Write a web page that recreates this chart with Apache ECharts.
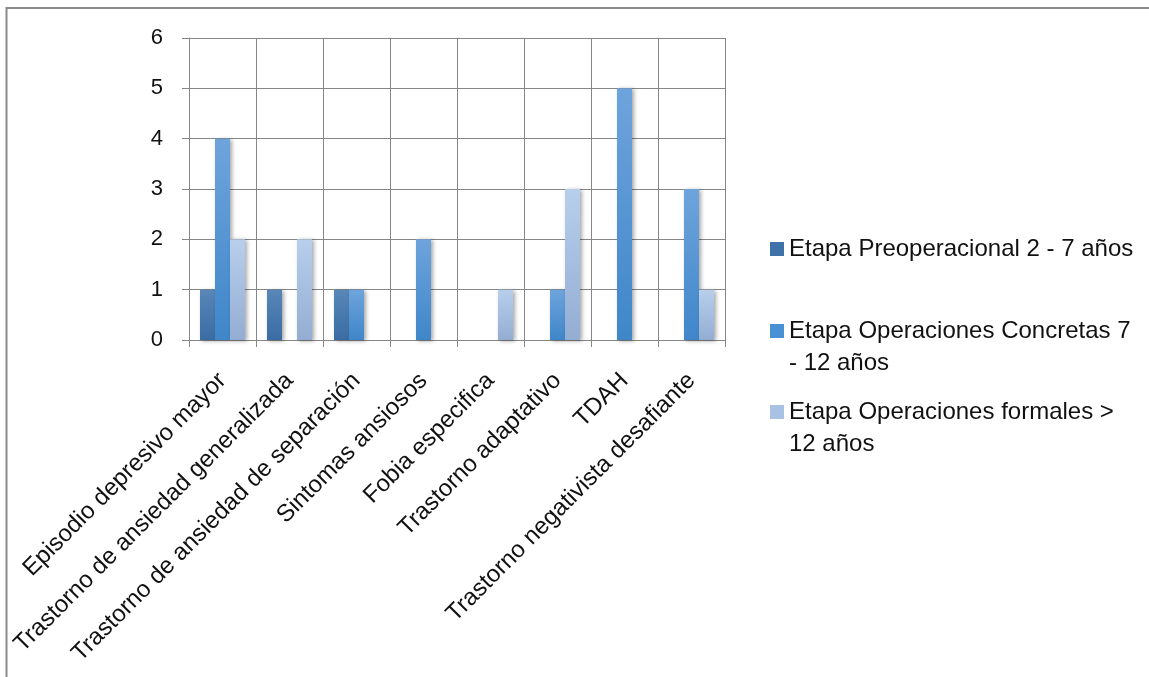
<!DOCTYPE html>
<html>
<head>
<meta charset="utf-8">
<script src="https://cdn.jsdelivr.net/npm/echarts@6/dist/echarts.min.js"></script>
<style>
  html, body { margin: 0; padding: 0; background: #fff; }
  #chart { width: 1149px; height: 677px; }
</style>
</head>
<body>
<div id="chart"></div>
<script>
var categories = [
  'Episodio depresivo mayor',
  'Trastorno de ansiedad generalizada',
  'Trastorno de ansiedad de separación',
  'Sintomas ansiosos',
  'Fobia especifica',
  'Trastorno adaptativo',
  'TDAH',
  'Trastorno negativista desafiante'
];
var seriesNames = [
  'Etapa Preoperacional 2 - 7 años',
  'Etapa Operaciones Concretas 7 - 12 años',
  'Etapa Operaciones formales > 12 años'
];
var preoperacional = [1, 1, 1, 0, 0, 0, 0, 0];
var concretas = [4, 0, 1, 2, 0, 1, 5, 3];
var formales = [2, 2, 0, 0, 1, 3, 0, 1];
var yTicks = [0, 1, 2, 3, 4, 5, 6];

var font = 'Liberation Sans';
var lineH = 32;
var gradient = function(top, bottom) {
  return new echarts.graphic.LinearGradient(0, 0, 0, 1, [
    {offset: 0, color: top},
    {offset: 1, color: bottom}
  ]);
};
var colors = [
  gradient('#5887b8', '#3a6ca3'),
  gradient('#6ea4dc', '#3f86c9'),
  gradient('#b8cfec', '#93add3')
];
var legendColors = ['#3f72a8', '#4a90d4', '#a9c1e3'];

var makeSeries = function(i, data) {
  return {
    name: seriesNames[i],
    type: 'bar',
    data: data,
    barWidth: 15,
    barGap: '0%',
    itemStyle: {
      color: colors[i],
      shadowColor: 'rgba(0,0,0,0.35)',
      shadowBlur: 4,
      shadowOffsetX: 2,
      shadowOffsetY: 1
    }
  };
};

// two-line legend entries: icon path padded down so the square sits on the first line
var legendItem = function(i, top, wrapped) {
  var twoLines = wrapped.indexOf('\n') >= 0;
  var h = twoLines ? 14 + lineH : 14;
  return {
    left: 770,
    top: top,
    padding: 0,
    orient: 'vertical',
    icon: twoLines ? 'path://M0,0h14v14h-14z M0,' + h + 'L0,' + h : 'rect',
    itemWidth: 14,
    itemHeight: h,
    data: [{name: seriesNames[i], itemStyle: {color: legendColors[i]}}],
    formatter: function() { return wrapped; },
    selectedMode: false,
    textStyle: {
      fontFamily: font,
      fontSize: 24,
      color: '#111',
      lineHeight: lineH
    }
  };
};

var chart = echarts.init(document.getElementById('chart'));
chart.setOption({
  animation: false,
  backgroundColor: '#fff',
  textStyle: {fontFamily: font},
  grid: {left: 189, right: 424, top: 38, bottom: 337, containLabel: false},
  legend: [
    legendItem(0, 233, 'Etapa Preoperacional 2 - 7 años'),
    legendItem(1, 315, 'Etapa Operaciones Concretas 7\n- 12 años'),
    legendItem(2, 396, 'Etapa Operaciones formales >\n12 años')
  ],
  xAxis: {
    type: 'category',
    data: categories,
    axisLine: {lineStyle: {color: '#868686', width: 1}},
    axisTick: {show: true, length: 7, lineStyle: {color: '#868686'}},
    splitLine: {show: true, lineStyle: {color: '#868686', width: 1}},
    axisLabel: {
      rotate: 45,
      interval: 0,
      margin: 37,
      fontFamily: font,
      fontSize: 24,
      color: '#111'
    }
  },
  yAxis: {
    type: 'value',
    min: yTicks[0],
    max: yTicks[yTicks.length - 1],
    interval: 1,
    axisLine: {show: true, lineStyle: {color: '#868686', width: 1}},
    axisTick: {show: true, length: 7, lineStyle: {color: '#868686'}},
    splitLine: {show: true, lineStyle: {color: '#868686', width: 1}},
    axisLabel: {
      margin: 26,
      fontFamily: font,
      fontSize: 22,
      color: '#111'
    }
  },
  graphic: [{
    type: 'polyline',
    shape: {points: [[6.5, 690], [6.5, 8], [1160, 8]]},
    style: {stroke: '#8a8a8a', lineWidth: 2, fill: null},
    silent: true
  }],
  series: [
    makeSeries(0, preoperacional),
    makeSeries(1, concretas),
    makeSeries(2, formales)
  ]
});
</script>
</body>
</html>
